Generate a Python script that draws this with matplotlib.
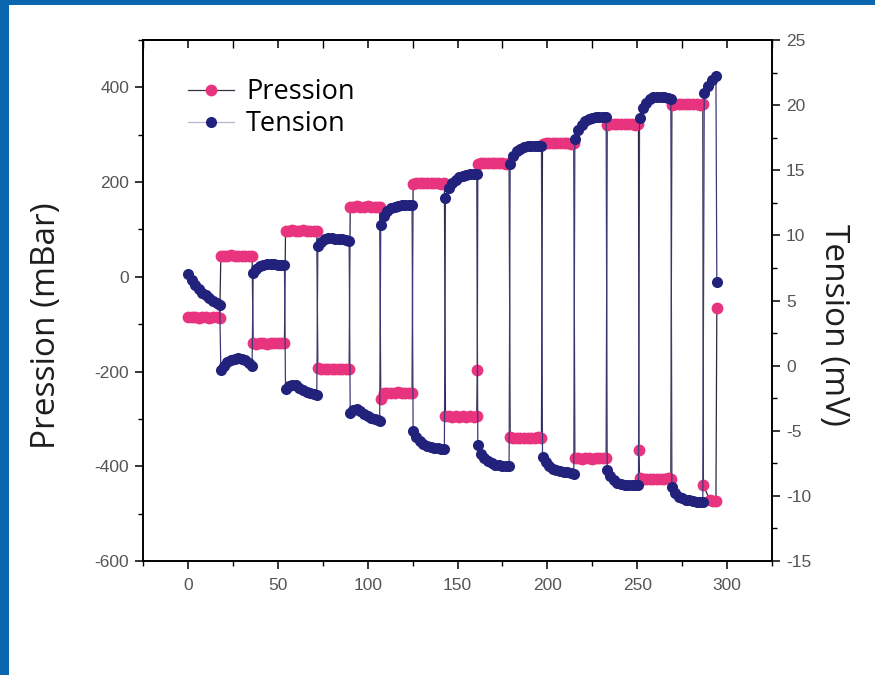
import matplotlib
matplotlib.use("Agg")
import matplotlib.pyplot as plt
from matplotlib.patches import Rectangle
from matplotlib.ticker import MultipleLocator

plt.rcParams['axes.unicode_minus'] = False

# ---------------- data ----------------
temps_pression = [
    0.3, 2, 4, 6, 8, 10, 12, 14, 16, 17.7,
    18.3, 20, 22, 24, 26, 28, 30, 32, 34, 35.7,
    36.3, 38, 40, 42, 44, 46, 48, 50, 52, 53.7,
    54.3, 56, 58, 60, 62, 64, 66, 68, 70, 71.7,
    72.3, 74, 76, 78, 80, 82, 84, 86, 88, 89.7,
    90.3, 92, 94, 96, 98, 100, 102, 104, 105.5, 106.7,
    107.3, 109, 111, 113, 115, 117, 119, 121, 123, 124.7,
    125.3, 127, 129, 131, 133, 135, 137, 139, 141, 142.7,
    143.3, 145, 147, 149, 151, 153, 155, 157, 159, 160.7,
    161.0,
    161.3, 163, 165, 167, 169, 171, 173, 175, 177, 178.7,
    179.3, 181, 183, 185, 187, 189, 191, 193, 195, 196.7,
    197.3, 199, 201, 203, 205, 207, 209, 211, 213, 214.7,
    215.3, 217, 219, 221, 223, 225, 227, 229, 231, 232.7,
    233.3, 235, 237, 239, 241, 243, 245, 247, 249, 250.7,
    251.0,
    251.3, 253, 255, 257, 259, 261, 263, 265, 267, 268.7,
    269.3, 271, 273, 275, 277, 279, 281, 283, 285, 286.5,
    286.8,
    290.5, 292.2, 293.8,
    294.3,
]
pression = [
    -84, -85, -85, -86, -85, -85, -86, -85, -85, -86,
    44, 45, 45, 46, 45, 45, 44, 45, 45, 44,
    -140, -141, -140, -140, -141, -140, -140, -139, -140, -140,
    96, 97, 98, 97, 97, 98, 97, 97, 96, 97,
    -193, -194, -195, -194, -195, -195, -194, -195, -194, -195,
    147, 148, 149, 148, 148, 149, 148, 148, 147, 148,
    -258, -246, -245, -246, -245, -244, -245, -245, -246, -245,
    197, 198, 199, 198, 198, 199, 198, 198, 197, 198,
    -293, -294, -295, -294, -295, -294, -295, -294, -295, -294,
    -197,
    238, 240, 241, 240, 240, 241, 240, 240, 239, 240,
    -338, -340, -341, -340, -340, -341, -340, -340, -339, -340,
    281, 282, 283, 282, 282, 283, 282, 282, 281, 282,
    -382, -383, -384, -383, -383, -384, -383, -383, -382, -383,
    321, 322, 323, 322, 322, 323, 322, 322, 321, 322,
    -366,
    -425, -426, -427, -426, -426, -427, -426, -426, -425, -426,
    363, 364, 365, 364, 364, 365, 364, 364, 363, 364,
    -440,
    -472, -473, -473,
    -65,
]

temps_tension = [
    0.3, 2, 4, 6, 8, 10, 12, 14, 16, 17.7,
    18.3, 20, 22, 24, 26, 28, 30, 32, 34, 35.7,
    36.3, 38, 40, 42, 44, 46, 48, 50, 52, 53.7,
    54.3, 56, 58, 60, 62, 64, 66, 68, 70, 71.7,
    72.3, 74, 76, 78, 80, 82, 84, 86, 88, 89.7,
    90.3, 92, 94, 96, 98, 100, 102, 104, 105.5, 106.7,
    107.3, 109, 111, 113, 115, 117, 119, 121, 123, 124.7,
    125.3, 127, 129, 131, 133, 135, 137, 139, 141, 142.7,
    143.3, 145, 147, 149, 151, 153, 155, 157, 159, 160.7,
    161.3, 163, 165, 167, 169, 171, 173, 175, 177, 178.7,
    179.3, 181, 183, 185, 187, 189, 191, 193, 195, 196.7,
    197.3, 199, 201, 203, 205, 207, 209, 211, 213, 214.7,
    215.3, 217, 219, 221, 223, 225, 227, 229, 231, 232.7,
    233.3, 235, 237, 239, 241, 243, 245, 247, 249, 250.7,
    251.3, 253, 255, 257, 259, 261, 263, 265, 267, 268.7,
    269.3, 271, 273, 275, 277, 279, 281, 283, 285, 286.5,
    287.3, 289.5, 291.7, 293.8,
    294.3,
]
tension = [
    7.0, 6.6, 6.2, 5.9, 5.6, 5.4, 5.2, 5.0, 4.8, 4.65,
    -0.3, 0.0, 0.25, 0.4, 0.5, 0.55, 0.5, 0.4, 0.2, 0.0,
    7.1, 7.45, 7.65, 7.75, 7.8, 7.8, 7.8, 7.75, 7.75, 7.7,
    -1.8, -1.55, -1.45, -1.5, -1.7, -1.85, -2.0, -2.1, -2.2, -2.25,
    9.2, 9.5, 9.7, 9.8, 9.8, 9.75, 9.7, 9.7, 9.65, 9.6,
    -3.6, -3.4, -3.35, -3.5, -3.7, -3.85, -4.0, -4.1, -4.2, -4.25,
    10.8, 11.5, 11.9, 12.1, 12.2, 12.25, 12.3, 12.3, 12.35, 12.35,
    -5.0, -5.5, -5.8, -6.0, -6.15, -6.25, -6.3, -6.35, -6.4, -6.4,
    12.9, 13.6, 14.0, 14.25, 14.45, 14.55, 14.6, 14.7, 14.75, 14.75,
    -6.1, -6.8, -7.1, -7.35, -7.5, -7.6, -7.65, -7.7, -7.7, -7.7,
    15.5, 16.1, 16.45, 16.65, 16.8, 16.85, 16.9, 16.9, 16.9, 16.9,
    -7.0, -7.4, -7.7, -7.9, -8.0, -8.1, -8.15, -8.2, -8.25, -8.3,
    17.4, 18.1, 18.5, 18.75, 18.9, 19.0, 19.05, 19.1, 19.1, 19.05,
    -8.0, -8.5, -8.8, -9.0, -9.1, -9.15, -9.2, -9.2, -9.2, -9.2,
    19.0, 19.8, 20.2, 20.45, 20.6, 20.65, 20.65, 20.6, 20.55, 20.5,
    -9.3, -9.8, -10.05, -10.2, -10.3, -10.35, -10.4, -10.45, -10.45, -10.5,
    20.9, 21.5, 21.9, 22.2,
    6.4,
]

x_ticks = [0, 50, 100, 150, 200, 250, 300]
y_left_ticks = [-600, -400, -200, 0, 200, 400]
y_right_ticks = [-15, -10, -5, 0, 5, 10, 15, 20, 25]

# ---------------- figure ----------------
W, H = 875, 675
fig = plt.figure(figsize=(W / 100, H / 100), dpi=100)
fig.patch.set_facecolor('white')

ax_l, ax_r, ax_t, ax_b = 143, 772, 40, 561
ax = fig.add_axes([ax_l / W, 1 - ax_b / H, (ax_r - ax_l) / W, (ax_b - ax_t) / H])
ax2 = ax.twinx()

PINK = '#e8347f'
NAVY = '#22227c'

l1, = ax.plot(temps_pression, pression, color='#2a2a40', lw=0.9,
              marker='o', markersize=8.5, markerfacecolor=PINK,
              markeredgecolor=PINK, markeredgewidth=0,
              label='Pression', zorder=3)
l2, = ax2.plot(temps_tension, tension, color='#3a3a78', lw=0.9,
               marker='o', markersize=8, markerfacecolor=NAVY,
               markeredgecolor=NAVY, markeredgewidth=0,
               label='Tension', zorder=3)

ax.set_xlim(-25, 325)
ax.set_ylim(-600, 500)
ax2.set_ylim(-15, 25)

tick_font = dict(family='Liberation Sans', size=12.5)
TICK_COL = '#555555'

ax.set_xticks(x_ticks)
ax.set_xticklabels([str(v) for v in x_ticks], **tick_font, color=TICK_COL)
ax.xaxis.set_minor_locator(MultipleLocator(25))
ax.set_yticks(y_left_ticks)
ax.set_yticklabels([str(v) for v in y_left_ticks], **tick_font, color=TICK_COL)
ax.yaxis.set_minor_locator(MultipleLocator(100))
ax2.set_yticks(y_right_ticks)
ax2.set_yticklabels([str(v) for v in y_right_ticks], **tick_font, color=TICK_COL)
ax2.yaxis.set_minor_locator(MultipleLocator(2.5))

ax.tick_params(axis='x', which='major', direction='out', length=6, width=1.1, pad=6)
ax.tick_params(axis='x', which='minor', direction='out', length=3.5, width=1.0)
ax.tick_params(axis='y', which='major', direction='out', length=6, width=1.1, pad=4)
ax.tick_params(axis='y', which='minor', direction='out', length=3.5, width=1.0)
ax2.tick_params(axis='y', which='major', direction='out', length=6, width=1.1, pad=4)
ax2.tick_params(axis='y', which='minor', direction='out', length=3.5, width=1.0)

# top ticks pointing inward
sec = ax.secondary_xaxis('top')
sec.set_xticks(x_ticks)
sec.xaxis.set_minor_locator(MultipleLocator(25))
sec.tick_params(axis='x', which='major', direction='in', length=6, width=1.1, labeltop=False)
sec.tick_params(axis='x', which='minor', direction='in', length=6, width=1.0)
sec.spines['top'].set_linewidth(1.2)

for a in (ax, ax2):
    for s in a.spines.values():
        s.set_linewidth(1.2)

fig.text(47 / W, 1 - 326 / H, 'Pression (mBar)', rotation=90, ha='center',
         va='center', family='Open Sans', size=24, color='#1e1e1e')
fig.text(833 / W, 1 - 325 / H, 'Tension (mV)', rotation=270, ha='center',
         va='center', family='Open Sans', size=24, color='#1e1e1e')

leg = ax2.legend([l1, l2], ['Pression', 'Tension'], loc='upper left',
                 bbox_to_anchor=(0.05, 0.953), frameon=False,
                 prop=dict(family='Open Sans', size=19.5), handlelength=1.7,
                 handletextpad=0.45, borderpad=0, labelspacing=0.15)
leg.legend_handles[0].set_color('#3a3040')
leg.legend_handles[0].set_markerfacecolor(PINK)
leg.legend_handles[1].set_color('#b8b8cc')
leg.legend_handles[1].set_markerfacecolor(NAVY)

# blue frame of the slide
BLUE = '#0a66ae'
fig.patches.append(Rectangle((0, 0), 9 / W, 1, transform=fig.transFigure,
                             facecolor=BLUE, edgecolor='none', zorder=10))
fig.patches.append(Rectangle((0, 1 - 5 / H), 1, 5 / H, transform=fig.transFigure,
                             facecolor=BLUE, edgecolor='none', zorder=10))

fig.savefig('out.png', dpi=100, facecolor='white')
